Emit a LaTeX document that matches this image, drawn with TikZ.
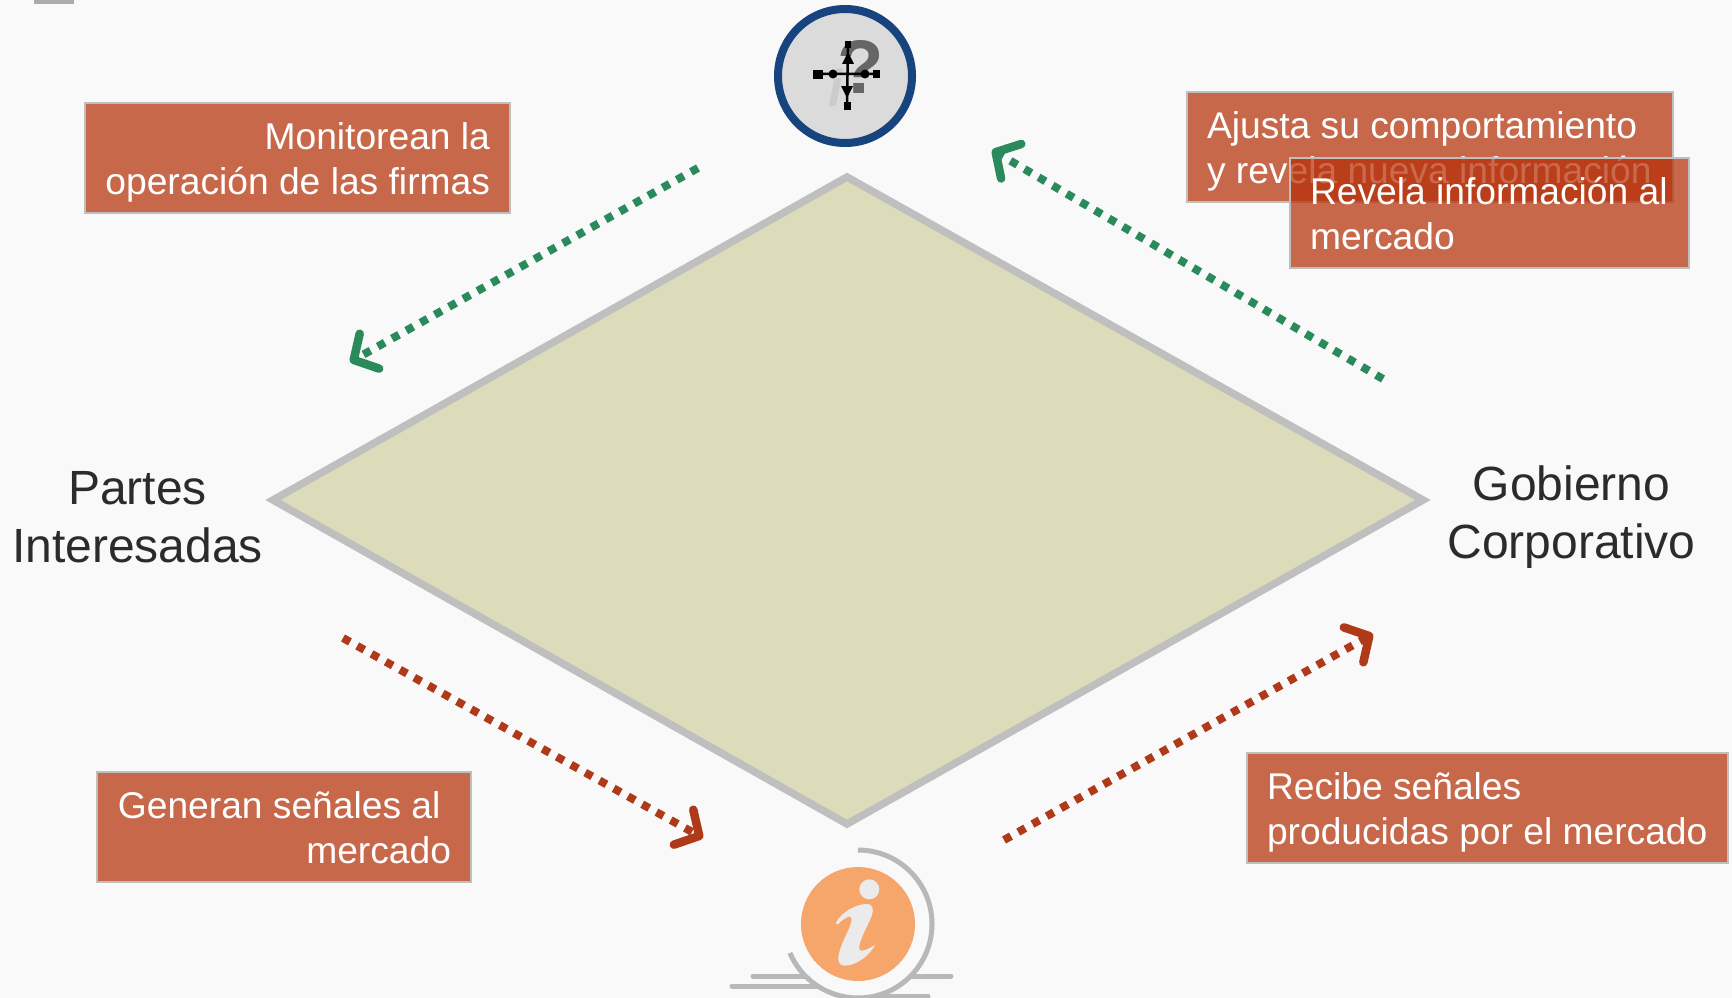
\documentclass[tikz,border=0pt]{standalone}
\usepackage{fontspec}
\setmainfont{Liberation Sans}
\usetikzlibrary{arrows.meta}
\definecolor{bgc}{HTML}{F9F9F9}
\definecolor{boxc}{HTML}{B52D05}
\definecolor{edgec}{HTML}{BFBFBF}
\definecolor{greenc}{HTML}{2A8A5C}
\definecolor{redc}{HTML}{AE3A19}
\definecolor{inkc}{HTML}{2B2B2B}
\definecolor{graylinec}{HTML}{B8B8B8}
\definecolor{diamondc}{HTML}{DCDCBA}
\definecolor{bluec}{HTML}{17447F}
\definecolor{orangec}{HTML}{F7A66B}
\tikzset{
  every node/.style={inner sep=0pt,outer sep=0pt},
  infobox/.style={draw=edgec,line width=2pt,fill=boxc,fill opacity=.71,draw opacity=1,text opacity=1,text=white,
    font=\fontsize{37.2}{45}\selectfont,anchor=north west},
  sidelabel/.style={text=inkc,align=center,font=\fontsize{48}{57.5}\selectfont},
  flow/.style={line width=8pt,dash pattern=on 8pt off 8.3pt,
    -{Straight Barb[length=18pt,width=40pt,line width=8.5pt,round]}},
  crossbit/.style={fill=black,draw=none}
}
\newcommand{\infobox}[7]{%
  \pgfmathsetmacro{\boxw}{#4-#2}\pgfmathsetmacro{\boxh}{#5-#3}\pgfmathsetmacro{\boxtw}{#4-#2-40}%
  \node[infobox,minimum width=\boxw pt,minimum height=\boxh pt] (#1) at (#2,#3)
    {\begin{minipage}{\boxtw pt}\vspace*{9pt}#6\strut#7\strut\end{minipage}};}
\begin{document}
\begin{tikzpicture}[x=1pt,y=-1pt]
\useasboundingbox (0,0) rectangle (1732,998);
\fill[bgc] (0,0) rectangle (1732,998);
\fill[black!33] (34,0) rectangle (74,4);

% diamond
\coordinate (dl) at (273,500);
\coordinate (dt) at (847,177);
\coordinate (dr) at (1423,500);
\coordinate (db) at (847,824);
\draw[draw=edgec,fill=diamondc,line width=7.5pt,line join=miter] (dl)--(dt)--(dr)--(db)--cycle;

% side labels
\node[sidelabel] (partes) at (137.5,517) {Partes\\Interesadas};
\node[sidelabel] (gobierno) at (1571.5,517) {Gobierno\\Corporativo};

% boxes
\infobox{monitor}{85}{103}{510}{213}{\raggedleft}{Monitorean la\\operación de las firmas}
\infobox{ajusta}{1187}{92}{1673}{202}{\raggedright}{Ajusta su comportamiento\\y revela nueva información}
\infobox{revela}{1290}{158}{1689}{268}{\raggedright}{Revela información al\\mercado}
\infobox{generan}{97}{772}{471}{882}{\raggedleft}{Generan señales al\hspace*{10.5pt}\mbox{}\\mercado}
\infobox{recibe}{1247}{753}{1728}{863}{\raggedright}{Recibe señales\\producidas por el mercado}

% flows
\coordinate (g1a) at (698,168); \coordinate (g1b) at (350,362);
\coordinate (g2a) at (1383,379); \coordinate (g2b) at (992,150);
\coordinate (r1a) at (343,638); \coordinate (r1b) at (703,838);
\coordinate (r2a) at (1004,840); \coordinate (r2b) at (1373,634);
\draw[flow,draw=greenc] (g1a)--(g1b);
\draw[flow,draw=greenc] (g2a)--(g2b);
\draw[flow,draw=redc] (r1a)--(r1b);
\draw[flow,draw=redc] (r2a)--(r2b);

% top icon
\draw[draw=bluec,fill=black!14,line width=8pt] (845,76) circle[radius=67];
\node[text=black!60,font=\fontsize{76}{76}\selectfont\bfseries] (qm) at (861,67) {?};
\node[text=black!20,font=\fontsize{52}{52}\selectfont\bfseries\itshape] (ii) at (836,88) {i};
\draw[line width=2.5pt] (815,74)--(878,74) (848,43)--(847,107);
\fill[crossbit] (813,70) rectangle (823,79);
\fill[crossbit] (873,70) rectangle (880,78);
\fill[crossbit] (833,74) circle[radius=4.5];
\fill[crossbit] (865,74) circle[radius=4.5];
\fill[crossbit] (845,41) rectangle (851,48);
\fill[crossbit] (844,102) rectangle (851,110);
\fill[crossbit] (848,52)--(842,64)--(854,64)--cycle;
\fill[crossbit] (847,98)--(841,86)--(853,86)--cycle;

% bottom icon
\draw[graylinec,line width=5pt,line cap=round] (753,976)--(951,976);
\draw[graylinec,line width=5pt,line cap=round] (732,986)--(830,986);
\draw[graylinec,line width=5pt,line cap=round] (860,996)--(928,996);
\fill[bgc] (858,924) circle[radius=74];
\draw[graylinec,line width=5pt] (858,850) arc[start angle=-90,end angle=157,radius=74];
\fill[orangec] (858,924) circle[radius=57];
\begin{scope}[shift={(710,830)},x=.3333pt,y=-.3333pt]
\fill[black!8] (478,178) circle[radius=30];
\fill[black!8] (378,278) .. controls (395,245) and (440,222) .. (470,222)
  .. controls (490,222) and (492,240) .. (485,258)
  .. controls (470,295) and (450,325) .. (447,355)
  .. controls (447,370) and (475,358) .. (495,345)
  .. controls (480,375) and (440,407) .. (405,407)
  .. controls (385,407) and (380,390) .. (390,360)
  .. controls (400,325) and (425,290) .. (425,265)
  .. controls (425,250) and (395,270) .. (385,282)
  .. controls (380,284) and (377,282) .. (378,278) -- cycle;
\end{scope}
\end{tikzpicture}
\end{document}
